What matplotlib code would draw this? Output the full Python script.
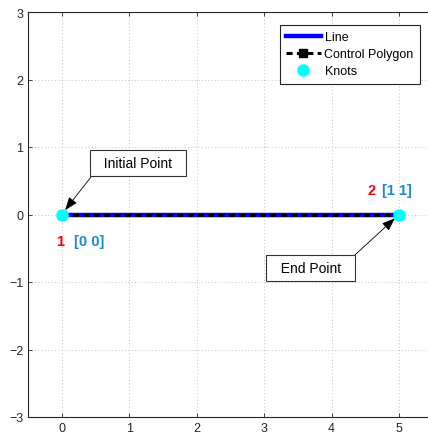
import matplotlib.pyplot as plt

plt.rcParams['font.family'] = ['Liberation Sans', 'DejaVu Sans']

# control points / knots of the curve
ctrl_x = [0, 5]
ctrl_y = [0, 0]
knot_ids = ['1', '2']
knot_params = ['[0 0]', '[1 1]']

xticks = [0, 1, 2, 3, 4, 5]
yticks = [-3, -2, -1, 0, 1, 2, 3]

fig = plt.figure(figsize=(4.28, 4.35), dpi=100)
ax = fig.add_axes([28 / 428, 17 / 435, 404.7 / 428, 405 / 435])

ax.plot(ctrl_x, ctrl_y, color='#0000ff', lw=3.2, label='Line', zorder=3)
ax.plot(ctrl_x, ctrl_y, color='black', lw=2.2, ls=(0, (2, 1.4)), marker='s',
        markersize=6, label='Control Polygon', zorder=4)
ax.plot(ctrl_x, ctrl_y, ls='none', marker='o', markersize=8,
        markerfacecolor='#00ffff', markeredgecolor='#00ffff', label='Knots', zorder=5)

# knot numbering and parameter values
lbl = dict(fontsize=10.5, fontweight='bold', ha='center', va='center')
ax.text(-0.02, -0.39, knot_ids[0], color='red', **lbl)
ax.text(0.4, -0.39, knot_params[0], color='#1a8ad0', **lbl)
ax.text(4.6, 0.37, knot_ids[1], color='red', **lbl)
ax.text(4.97, 0.37, knot_params[1], color='#1a8ad0', **lbl)

box = dict(boxstyle='square,pad=0.45', fc='white', ec='#333333', lw=0.8)
arrow = dict(arrowstyle='-|>,head_length=0.8,head_width=0.3', color='black',
             lw=0.6, shrinkA=0, shrinkB=4)
ax.annotate('  Initial Point  ', xy=(ctrl_x[0], ctrl_y[0]), xytext=(1.135, 0.763),
            fontsize=10, ha='center', va='center', bbox=box,
            arrowprops=dict(arrow, relpos=(0, 0)))
ax.annotate('  End Point  ', xy=(ctrl_x[1], ctrl_y[1]), xytext=(3.69, -0.79),
            fontsize=10, ha='center', va='center', bbox=box,
            arrowprops=dict(arrow, relpos=(1, 1)))

ax.set_xlim(-0.5, 5.5)
ax.set_ylim(-3, 3)
ax.set_xticks(xticks)
ax.set_yticks(yticks)
ax.set_yticklabels([str(v).replace('-', '\u2212') for v in yticks])
ax.tick_params(direction='in', length=3, labelsize=9, colors='#262626', width=0.6)
ax.tick_params(top=True, right=True)
ax.grid(True, ls=(0, (1, 3)), color='#aaaaaa', lw=0.6)
for s in ax.spines.values():
    s.set_color('#262626')
    s.set_linewidth(0.8)

leg = ax.legend(loc='upper right', bbox_to_anchor=((420 - 28) / 404.7, 1 - 13 / 405),
                bbox_transform=ax.transAxes, fontsize=9, fancybox=False,
                framealpha=1, edgecolor='#222222', borderpad=0.5,
                handlelength=2.8, labelspacing=0.4, handletextpad=0.3,
                borderaxespad=0)
leg.get_frame().set_linewidth(0.8)

fig.savefig('out.png', dpi=100)
